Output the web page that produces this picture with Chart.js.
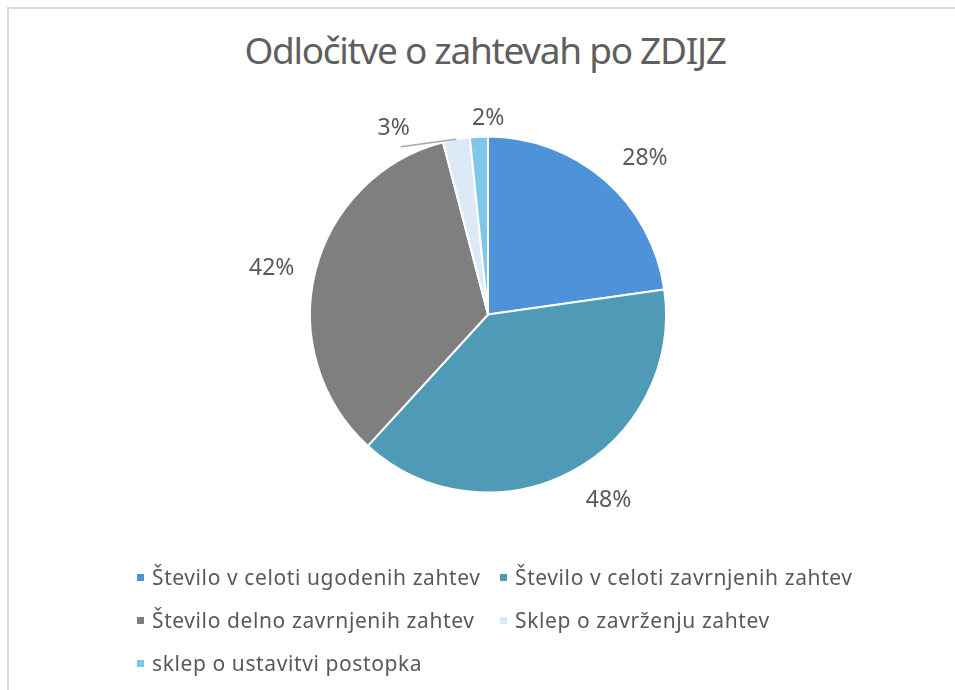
<!DOCTYPE html>
<html>
<head>
<meta charset="utf-8">
<script src="https://cdn.jsdelivr.net/npm/chart.js@4"></script>
<style>
  body { margin: 0; background: #fff; font-family: "Noto Sans", sans-serif; }
  #wrap { position: relative; width: 955px; height: 690px; overflow: hidden; }
  #frame { position: absolute; left: 7px; top: 7px; width: 1000px; height: 1000px; border: 2px solid #d9d9d9; box-sizing: border-box; }
  #title { position: absolute; left: 0; width: 970px; top: 24px; text-align: center; font-size: 37px; color: #5f5f5f; letter-spacing: -1.3px; }
  #chart { position: absolute; left: 0; top: 0; }
  #legend { position: absolute; left: 137px; top: 562px; display: grid; grid-template-columns: 363px 380px; row-gap: 13px; }
  .item { display: flex; align-items: center; font-size: 21px; letter-spacing: 0.6px; color: #595959; height: 30px; white-space: nowrap; }
  .box { width: 7px; height: 7px; margin-right: 8px; }
</style>
</head>
<body>
<div id="wrap">
  <div id="frame"></div>
  <div id="title">Odločitve o zahtevah po ZDIJZ</div>
  <canvas id="chart" width="955" height="690"></canvas>
  <div id="legend"></div>
</div>
<script>
// podatki
const categories = [
    'Število v celoti ugodenih zahtev',
    'Število v celoti zavrnjenih zahtev',
    'Število delno zavrnjenih zahtev',
    'Sklep o zavrženju zahtev',
    'sklep o ustavitvi postopka'
];
const values = [28, 48, 42, 3, 2];
const colors = ['#4e93d9', '#4f9bb7', '#7f7f7f', '#dde9f6', '#7ec7ea'];

// premiki oznak (kot v stopinjah, razmik od roba)
const labelNudge = {
    0: { angle: 2.6, gap: 27 },
    1: { angle: -3.7, gap: 30 },
    2: { angle: -1.2, gap: 21 },
    3: { angle: -16, gap: 19, leader: true },
    4: { angle: 3, gap: 8 }
};

const outsideLabels = {
    id: 'outsideLabels',
    afterDatasetsDraw(chart) {
        const ctx = chart.ctx;
        const meta = chart.getDatasetMeta(0);
        ctx.save();
        ctx.font = '23px "Noto Sans"';
        ctx.fillStyle = '#595959';
        ctx.textAlign = 'center';
        ctx.textBaseline = 'middle';
        meta.data.forEach((arc, i) => {
            const p = arc.getProps(['x', 'y', 'startAngle', 'endAngle', 'outerRadius'], true);
            const mid = (p.startAngle + p.endAngle) / 2;
            const n = labelNudge[i] || {};
            const ang = mid + (n.angle || 0) * Math.PI / 180;
            const gap = n.gap !== undefined ? n.gap : 26;
            const txt = values[i] + '%';
            const w = ctx.measureText(txt).width;
            const h = 20;
            // sidro na razmiku od roba, škatla oznake se razširi navzven
            const ax = p.x + Math.cos(ang) * (p.outerRadius + gap);
            const ay = p.y + Math.sin(ang) * (p.outerRadius + gap);
            const lx = ax + Math.cos(ang) * w / 2;
            const ly = ay + Math.sin(ang) * h / 2;
            if (n.leader) {
                ctx.strokeStyle = '#a6a6a6';
                ctx.lineWidth = 1.5;
                ctx.beginPath();
                ctx.moveTo(p.x + Math.cos(mid) * p.outerRadius, p.y + Math.sin(mid) * p.outerRadius);
                ctx.lineTo(lx + 7, ly + 18);
                ctx.stroke();
            }
            ctx.fillText(txt, lx, ly);
        });
        ctx.restore();
    }
};

new Chart(document.getElementById('chart'), {
    type: 'pie',
    data: {
        labels: categories,
        datasets: [{
            data: values,
            backgroundColor: colors,
            borderColor: '#ffffff',
            borderWidth: 2,
            hoverOffset: 0,
            offset: 0
        }]
    },
    options: {
        responsive: false,
        animation: false,
        layout: { padding: { top: 135, bottom: 196, left: 309, right: 288 } },
        plugins: {
            legend: { display: false },
            tooltip: { enabled: false }
        }
    },
    plugins: [outsideLabels]
});

// legenda
const legend = document.getElementById('legend');
categories.forEach((c, i) => {
    const d = document.createElement('div');
    d.className = 'item';
    d.innerHTML = '<span class="box" style="background:' + colors[i] + '"></span>' + c;
    legend.appendChild(d);
});
</script>
</body>
</html>
